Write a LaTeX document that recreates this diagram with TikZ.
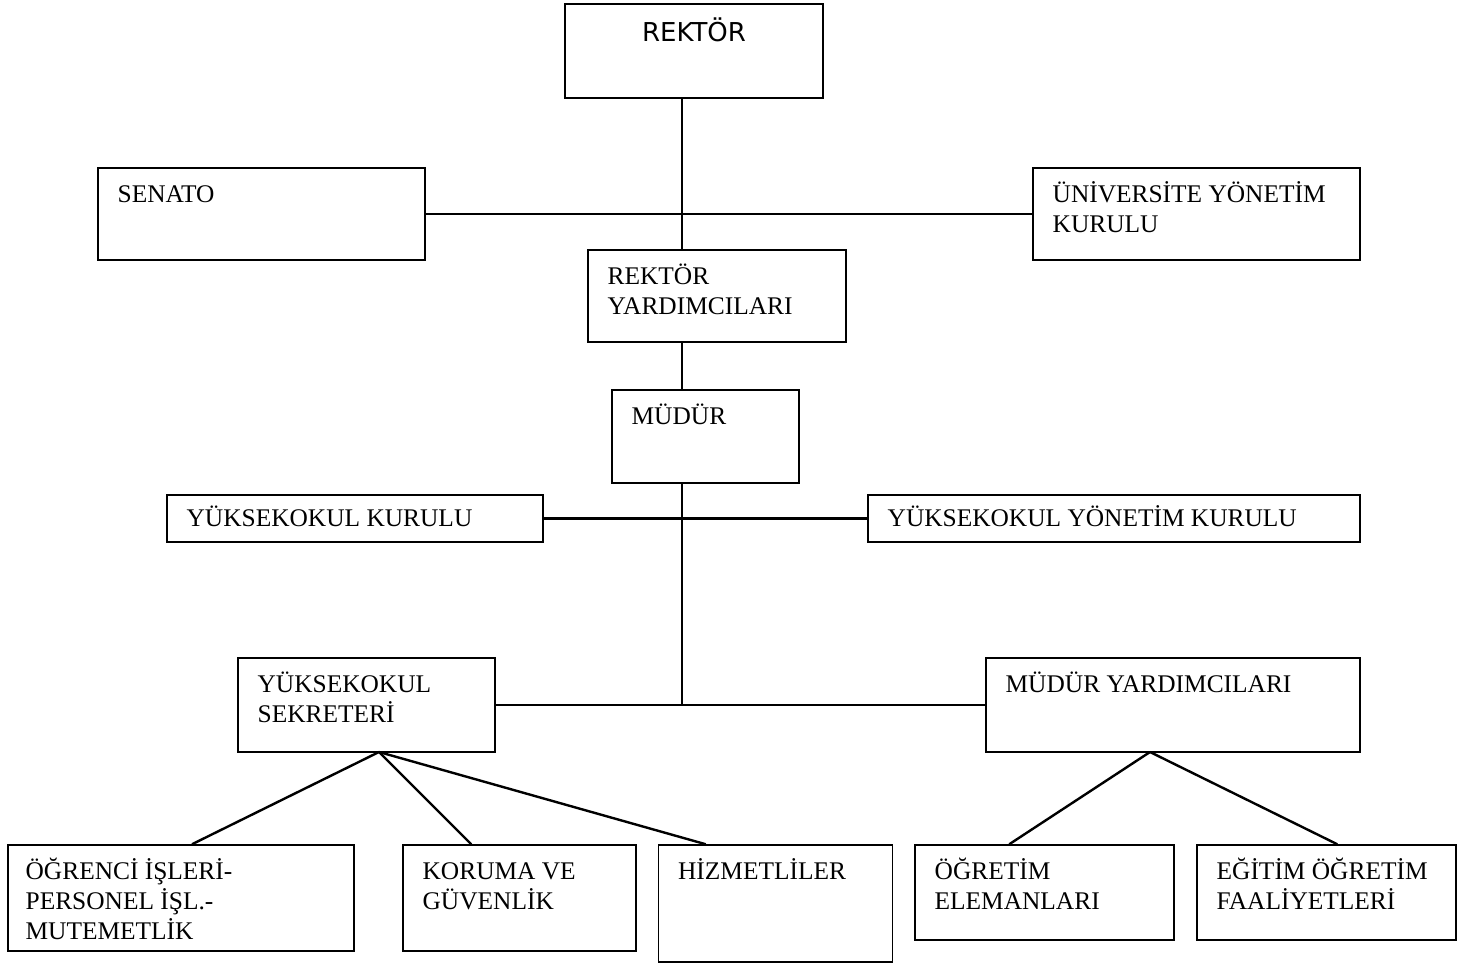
\documentclass[tikz,border=0pt]{standalone}
\usepackage{fontspec}
\setmainfont{Liberation Serif}
\newfontfamily\rektorfont{DejaVu Sans}

\begin{document}
\begin{tikzpicture}[x=0.5pt,y=-0.5pt,
    kutu/.style={draw, line width=0.75pt, inner sep=0pt},
    yazi/.style={anchor=base west, inner sep=0pt, align=left,
        font=\fontsize{12.7}{15}\selectfont, xshift=10pt, yshift=-17.5pt},
    ikisatir/.style={yazi, yshift=-15pt},
    ucsatir/.style={yazi, yshift=-30pt},
    cizgi/.style={line width=1.2pt}]
        \useasboundingbox (0,0) rectangle (1467,963);
        \node[kutu, minimum width=129pt, minimum height=47pt,
            label={[anchor=base, inner sep=0pt, yshift=-19pt, font=\rektorfont\fontsize{13}{15}\selectfont]north:REKTÖR}] (rektor) at (694,51) {};
        \node[kutu, minimum width=163.5pt, minimum height=46pt,
            label={[yazi]north west:SENATO}] (senato) at (261.5,214) {};
        \node[kutu, minimum width=163.5pt, minimum height=46pt,
            label={[ikisatir]north west:ÜNİVERSİTE YÖNETİM\\KURULU}] (uyk) at (1196.5,214) {};
        \node[kutu, minimum width=129pt, minimum height=46pt,
            label={[ikisatir]north west:REKTÖR\\YARDIMCILARI}] (ryard) at (717,296) {};
        \node[kutu, minimum width=93.5pt, minimum height=46.5pt,
            label={[yazi]north west:MÜDÜR}] (mudur) at (705.5,436.5) {};
        \node[kutu, minimum width=188pt, minimum height=23.5pt,
            label={[yazi, yshift=1.5pt]north west:YÜKSEKOKUL KURULU}] (ykurul) at (355,518.5) {};
        \node[kutu, minimum width=246pt, minimum height=23.5pt,
            label={[yazi, yshift=1.5pt]north west:YÜKSEKOKUL YÖNETİM KURULU}] (yyk) at (1114,518.5) {};
        \node[kutu, minimum width=128.5pt, minimum height=47pt,
            label={[ikisatir]north west:YÜKSEKOKUL\\SEKRETERİ}] (sekreter) at (366.5,705) {};
        \node[kutu, minimum width=187pt, minimum height=47pt,
            label={[yazi]north west:MÜDÜR YARDIMCILARI}] (myard) at (1173,705) {};
        \node[kutu, minimum width=173pt, minimum height=53pt,
            label={[ucsatir, xshift=-1pt]north west:ÖĞRENCİ İŞLERİ-\\PERSONEL İŞL.-\\MUTEMETLİK}] (ogrenci) at (181,898) {};
        \node[kutu, minimum width=116.5pt, minimum height=53pt,
            label={[ikisatir]north west:KORUMA VE\\GÜVENLİK}] (koruma) at (519.5,898) {};
        \node[kutu, minimum width=117pt, minimum height=58.5pt,
            label={[yazi]north west:HİZMETLİLER}] (hizmet) at (775.5,903.5) {};
        \node[kutu, minimum width=129.5pt, minimum height=47.5pt,
            label={[ikisatir]north west:ÖĞRETİM\\ELEMANLARI}] (ogretim) at (1044.5,892.5) {};
        \node[kutu, minimum width=129.5pt, minimum height=47.5pt,
            label={[ikisatir]north west:EĞİTİM ÖĞRETİM\\FAALİYETLERİ}] (egitim) at (1326.5,892.5) {};
        \coordinate (govde) at (682,0);
        \coordinate (sekalt) at (379,752);
        \coordinate (myalt) at (1150,752);
        \draw[cizgi] (rektor.south -| govde) -- (ryard.north -| govde);
        \draw[cizgi] (senato.east) -- (uyk.west);
        \draw[cizgi] (ryard.south -| govde) -- (mudur.north -| govde);
        \draw[cizgi] (mudur.south -| govde) -- (govde |- sekreter.east);
        \draw[cizgi] (ykurul.east) -- (yyk.west);
        \draw[cizgi] (sekreter.east) -- (myard.west);
        \draw[cizgi] (sekalt) -- ([xshift=5.5pt]ogrenci.north);
        \draw[cizgi] (sekalt) -- ([xshift=34.5pt]koruma.north west);
        \draw[cizgi] (sekalt) -- ([xshift=24pt]hizmet.north west);
        \draw[cizgi] (myalt) -- ([xshift=47.5pt]ogretim.north west);
        \draw[cizgi] (myalt) -- ([xshift=70.5pt]egitim.north west);
    \end{tikzpicture}
\end{document}
